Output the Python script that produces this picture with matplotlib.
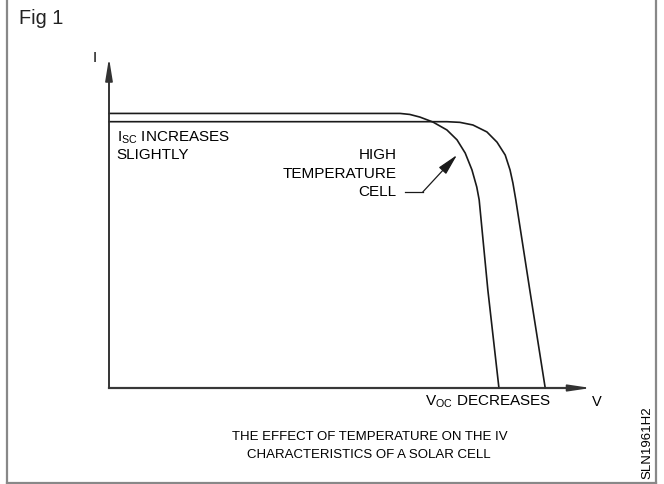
import matplotlib.pyplot as plt
import matplotlib.lines as mlines

plt.rcParams['font.family'] = ['Liberation Sans', 'DejaVu Sans']

# I-V curves in normalised units (V: 0..1 along the axis, I: 0..1 up the axis)
v_high = [0.0, 0.604, 0.624, 0.645, 0.672, 0.701, 0.722, 0.739, 0.753, 0.763, 0.768, 0.786, 0.809]
i_high = [0.832, 0.832, 0.829, 0.821, 0.806, 0.782, 0.752, 0.712, 0.661, 0.609, 0.570, 0.297, 0.0]

v_low = [0.0, 0.701, 0.728, 0.755, 0.784, 0.805, 0.822, 0.832, 0.838, 0.844, 0.873, 0.905]
i_low = [0.807, 0.807, 0.805, 0.797, 0.776, 0.745, 0.706, 0.661, 0.621, 0.570, 0.297, 0.0]

caption = ["THE EFFECT OF TEMPERATURE ON THE IV", "CHARACTERISTICS OF A SOLAR CELL"]

W, H = 664, 484
fig = plt.figure(figsize=(W / 100, H / 100), dpi=100)

# frame around the figure (left, right, bottom)
fig.add_artist(mlines.Line2D([7 / W, 7 / W], [0, 1], color='#888888', lw=1.6))
fig.add_artist(mlines.Line2D([656 / W, 656 / W], [0, 1], color='#888888', lw=1.6))
fig.add_artist(mlines.Line2D([7 / W, 656 / W], [1.5 / H, 1.5 / H], color='#888888', lw=1.6))
fig.text(19 / W, 1 - 19 / H, "Fig 1", fontsize=14.3, va='center', ha='left', color='#222222')

ax = fig.add_axes([109 / W, (H - 388) / H, 482 / W, 330 / H])
ax.set_xlim(0, 1)
ax.set_ylim(0, 1)
ax.axis('off')

# axes with arrows
ax.annotate('', xy=(0, 1.0), xytext=(0, 0), annotation_clip=False,
            arrowprops=dict(arrowstyle='-|>,head_length=1.35,head_width=0.22',
                            color='#333333', lw=1.2, shrinkA=0, shrinkB=0))
ax.annotate('', xy=(1.0, 0), xytext=(0, 0), annotation_clip=False,
            arrowprops=dict(arrowstyle='-|>,head_length=1.35,head_width=0.2',
                            color='#333333', lw=1.2, shrinkA=0, shrinkB=0))
ax.plot([0, 0], [0, 0.97], color='#555555', lw=1.4, clip_on=False)
ax.plot([0, 0.97], [0, 0], color='#555555', lw=1.6, clip_on=False)

ax.plot(v_high, i_high, color='#1a1a1a', lw=1.2, clip_on=False)
ax.plot(v_low, i_low, color='#1a1a1a', lw=1.2, clip_on=False)

ax.text(-0.03, 1.0, "I", fontsize=10.5, ha='center', va='center')
ax.text(1.013, -0.042, "V", fontsize=10.5, ha='center', va='center')

ax.text(0.016, 0.76, r"I$_{\mathregular{SC}}$ INCREASES", fontsize=11, ha='left', va='center')
ax.text(0.016, 0.706, "SLIGHTLY", fontsize=11, ha='left', va='center')

ax.text(0.597, 0.706, "HIGH", fontsize=11, ha='right', va='center')
ax.text(0.597, 0.648, "TEMPERATURE", fontsize=11, ha='right', va='center')
ax.text(0.597, 0.594, "CELL", fontsize=11, ha='right', va='center')

# pointer to the high temperature curve
ax.plot([0.614, 0.651], [0.594, 0.594], color='#1a1a1a', lw=0.9)
ax.annotate('', xy=(0.722, 0.706), xytext=(0.651, 0.594),
            arrowprops=dict(arrowstyle='-|>,head_length=1.3,head_width=0.3',
                            color='#1a1a1a', lw=0.9, shrinkA=0, shrinkB=0))

ax.text(0.786, -0.042, r"V$_{\mathregular{OC}}$ DECREASES", fontsize=11, ha='center', va='center')

fig.text(370 / W, 1 - 437 / H, caption[0], fontsize=9.5, ha='center', va='center')
fig.text(369 / W, 1 - 455 / H, caption[1], fontsize=9.5, ha='center', va='center')
fig.text(647 / W, 1 - 443 / H, "SLN1961H2", fontsize=9.5, ha='center', va='center', rotation=90)

fig.savefig('out.png', dpi=100)
